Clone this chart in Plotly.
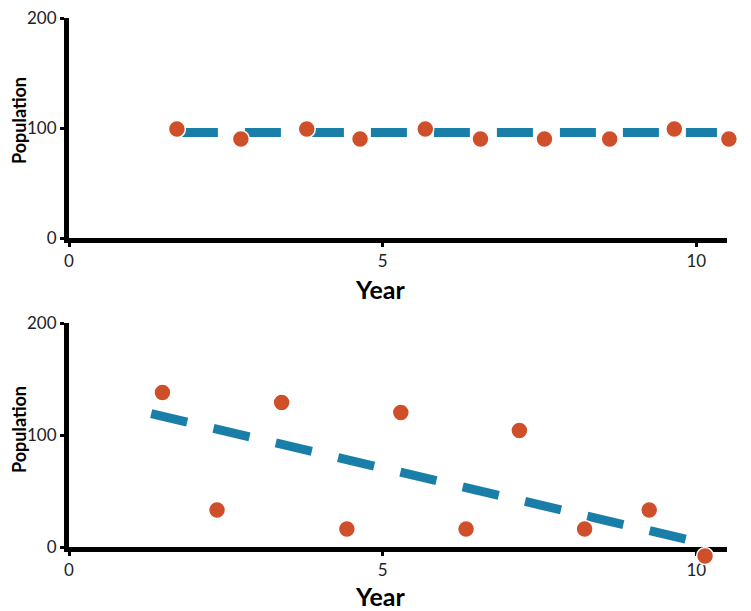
import plotly.graph_objects as go

# Top panel: stable population
top_years = [1.72, 2.74, 3.79, 4.64, 5.68, 6.56, 7.58, 8.62, 9.65, 10.52]
top_pop = [99, 90, 99, 90, 99, 90, 90, 90, 99, 90]
top_trend_x = [1.8, 10.33]
top_trend_y = [96, 96]

# Bottom panel: declining population
bot_years = [1.49, 2.36, 3.39, 4.43, 5.29, 6.33, 7.18, 8.22, 9.25, 10.14]
bot_pop = [138, 33, 129, 16, 120, 16, 104, 16, 33, -8]
bot_trend_x = [1.31, 10.06]
bot_trend_y = [119, 4]

x_ticks = [0, 5, 10]
y_ticks = [0, 100, 200]

LINE_COLOR = "#1a7fa8"
DOT_COLOR = "#cf4f2b"
FONT = "Lato"

OFF = 8                   # page body margin in the browser
W, H = 751 - OFF, 611 - OFF
X0, X1 = 69, 727          # x axis pixel extent (page pixels)
XMAX = 10.49
TOP_Y0, TOP_Y1 = 238, 18  # pixel of y=0, y=200 (top panel)
BOT_Y0, BOT_Y1 = 547, 323 # pixel of y=0, y=200 (bottom panel)

def fx(px):
    return (px - OFF) / W

def fy(py):
    return (H - (py - OFF)) / H

xscale = (X1 - X0) / XMAX
XDATA_MAX = 10.8
YDATA_MIN = -10
bot_scale = (BOT_Y0 - BOT_Y1) / 200

fig = go.Figure()

fig.add_trace(go.Scatter(x=top_trend_x, y=top_trend_y, mode="lines", xaxis="x", yaxis="y",
                         line=dict(color=LINE_COLOR, width=9, dash="36px,27px"),
                         cliponaxis=False, showlegend=False, hoverinfo="skip"))
fig.add_trace(go.Scatter(x=bot_trend_x, y=bot_trend_y, mode="lines", xaxis="x2", yaxis="y2",
                         line=dict(color=LINE_COLOR, width=9, dash="37px,27px"),
                         cliponaxis=False, showlegend=False, hoverinfo="skip"))
fig.add_trace(go.Scatter(x=top_years, y=top_pop, mode="markers", xaxis="x3", yaxis="y",
                         marker=dict(color=DOT_COLOR, size=17, line=dict(color="white", width=1.5)),
                         cliponaxis=False, showlegend=False))
fig.add_trace(go.Scatter(x=bot_years, y=bot_pop, mode="markers", xaxis="x3", yaxis="y4",
                         marker=dict(color=DOT_COLOR, size=17, line=dict(color="white", width=1.5)),
                         cliponaxis=False, showlegend=False))

axis_common = dict(showline=True, linecolor="black", linewidth=5, showgrid=False,
                   zeroline=False, ticks="outside", tickwidth=3, ticklen=4,
                   tickcolor="black", automargin=False, fixedrange=True,
                   ticklabeloverflow="allow",
                   tickfont=dict(family=FONT, size=17, color="#222"))

xaxis = dict(axis_common, range=[0, XMAX], tickvals=x_ticks,
             ticktext=[str(v) for v in x_ticks], domain=[fx(X0), fx(X1)])
yaxis = dict(axis_common, range=[0, 200], tickvals=y_ticks,
             ticktext=[str(v) for v in y_ticks])

fig.update_layout(
    width=W, height=H,
    margin=dict(l=0, r=0, t=0, b=0),
    plot_bgcolor="rgba(0,0,0,0)", paper_bgcolor="white",
    xaxis=dict(xaxis, anchor="y"),
    yaxis=dict(yaxis, anchor="x", domain=[fy(TOP_Y0), fy(TOP_Y1)]),
    xaxis2=dict(xaxis, anchor="y2"),
    yaxis2=dict(yaxis, anchor="x2", domain=[fy(BOT_Y0), fy(BOT_Y1)]),
    xaxis3=dict(visible=False, range=[0, XDATA_MAX], anchor="y",
                domain=[fx(X0), fx(X0 + XDATA_MAX * xscale)], fixedrange=True),
    yaxis4=dict(visible=False, range=[YDATA_MIN, 200], anchor="x3",
                domain=[fy(BOT_Y0 - YDATA_MIN * bot_scale), fy(BOT_Y1)], fixedrange=True),
    font=dict(family=FONT),
)

for y_px in [289, 596]:
    fig.add_annotation(text="<b>Year</b>", xref="paper", yref="paper",
                       x=fx(380), y=fy(y_px), showarrow=False,
                       font=dict(family=FONT, size=25, color="black"),
                       xanchor="center", yanchor="middle")

for y_px in [121, 430]:
    fig.add_annotation(text="<b>Population</b>", xref="paper", yref="paper",
                       x=fx(19), y=fy(y_px), showarrow=False, textangle=-90,
                       font=dict(family=FONT, size=18, color="black"),
                       xanchor="center", yanchor="middle", borderpad=0)

fig.write_html("out.html")
